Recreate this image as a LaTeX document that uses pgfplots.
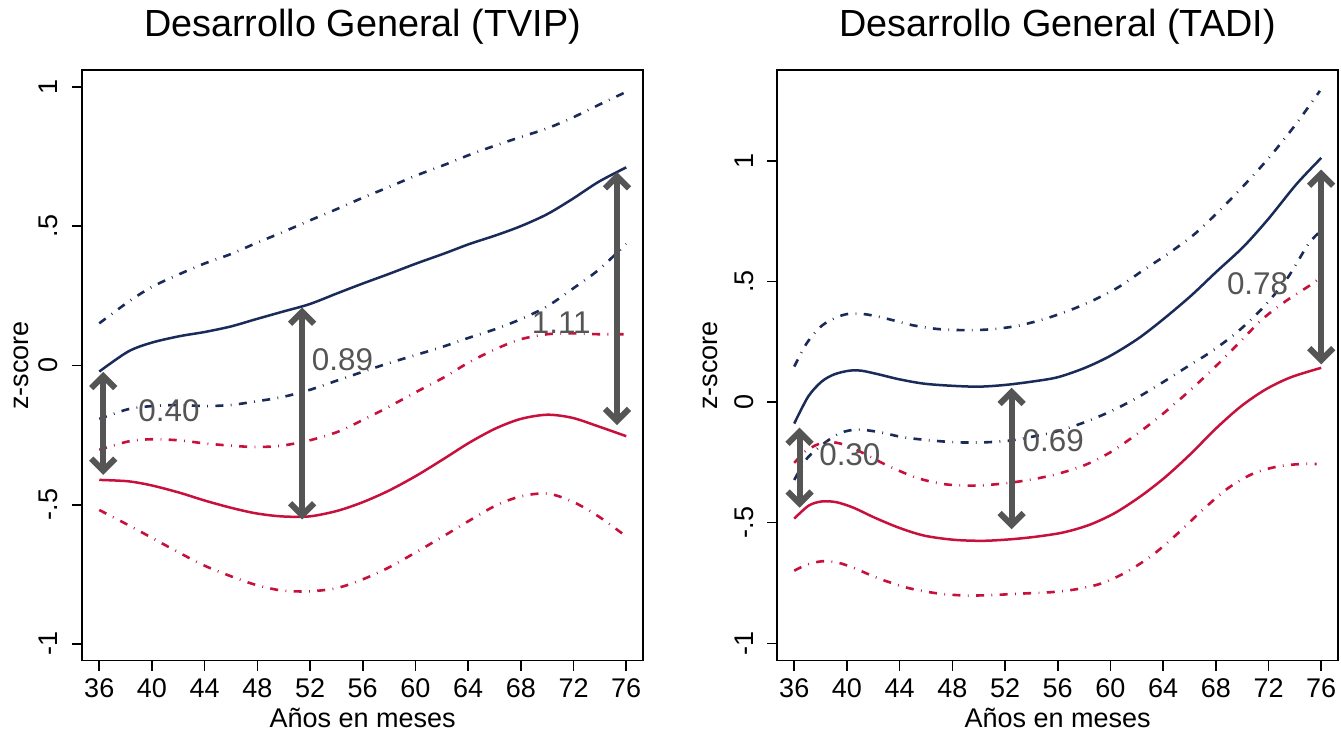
\documentclass[border=0pt]{standalone}
\usepackage{pgfplots}
\pgfplotsset{compat=1.18}
\usepackage{fontspec}
\setmainfont{Liberation Sans}
\usetikzlibrary{arrows.meta}
\definecolor{navy}{RGB}{26,43,90}
\definecolor{crim}{RGB}{200,16,60}
\definecolor{arr}{RGB}{85,85,85}
\tikzset{glab/.style={text=arr, font=\fontsize{15.7}{18}\selectfont}}
\pgfplotsset{
 stata/.style={
  scale only axis, width=280.6pt, height=295.4pt,
  xmin=34.69, xmax=77.29,
  xtick={36,40,44,48,52,56,60,64,68,72,76},
  xticklabels={36,40,44,48,52,56,60,64,68,72,76},
  tick align=outside, tick pos=left,
  major tick length=5pt,
  tick style={black, line width=0.8pt},
  axis line style={line width=0.8pt},
  ticklabel style={font=\fontsize{13.5}{16}\selectfont},
  xticklabel style={anchor=base, yshift=-13.5pt},
  yticklabel style={rotate=90, anchor=base},
  yticklabel shift=7pt,
  ytick={-1,-0.5,0,0.5,1},
  yticklabels={-1,-.5,0,.5,1},
  xlabel={Años en meses}, ylabel={z-score},
  label style={font=\fontsize{13.5}{16}\selectfont},
  xlabel style={at={(0.5,-0.1137)}, anchor=base},
  title style={font=\fontsize{18.9}{22}\selectfont, at={(0.5,1.0361)}, anchor=base},
 },
 mainb/.style={navy, line width=1.25pt, smooth, no marks},
 ciob/.style={navy, line width=1.3pt, smooth, no marks, dash pattern=on 4pt off 3.7pt on 0.4pt off 3.7pt},
 mainr/.style={crim, line width=1.25pt, smooth, no marks},
 cior/.style={crim, line width=1.3pt, smooth, no marks, dash pattern=on 4pt off 3.7pt on 0.4pt off 3.7pt},
 garr/.style={arr, line width=3pt, {Straight Barb[length=6pt,width=12pt]}-{Straight Barb[length=6pt,width=12pt]}},
}
\begin{document}
\begin{tikzpicture}
\path[use as bounding box] (0,0) rectangle (670.5pt,366pt);
\begin{axis}[stata, at={(41pt,35.65pt)}, anchor=south west,
  ymin=-1.06, ymax=1.061, title={Desarrollo General (TVIP)},
  ylabel style={at={(-0.0962,0.5)}, anchor=base}]
\addplot[ciob] coordinates {(36,0.151) (38.2,0.228) (40,0.282) (42.1,0.328) (44,0.366) (46,0.40) (47.9,0.439) (49.85,0.477) (51.96,0.52) (54.07,0.562) (56,0.602) (57.96,0.64) (60.07,0.682) (62.2,0.72) (64.1,0.756) (66.1,0.79) (68,0.82) (70,0.851) (71.9,0.889) (73.9,0.935) (76,0.982)};
\addplot[mainb] coordinates {(36,-0.022) (38.2,0.05) (40,0.082) (42.1,0.105) (44,0.12) (46,0.14) (47.9,0.166) (49.85,0.192) (51.96,0.22) (54.07,0.259) (56,0.294) (57.96,0.328) (60.07,0.366) (62.2,0.402) (64.1,0.436) (66.1,0.467) (68,0.50) (70,0.543) (71.9,0.597) (73.9,0.659) (76,0.711)};
\addplot[ciob] coordinates {(36,-0.192) (38.2,-0.157) (40,-0.146) (42.1,-0.142) (44,-0.146) (46,-0.142) (47.9,-0.129) (49.85,-0.114) (51.96,-0.088) (54.07,-0.054) (56,-0.023) (57.96,0.008) (60.07,0.038) (62.2,0.069) (64.1,0.10) (66.1,0.131) (68,0.166) (70,0.212) (71.9,0.274) (73.9,0.343) (76,0.436)};
\addplot[cior] coordinates {(36,-0.303) (38.2,-0.273) (40,-0.265) (42.1,-0.269) (44,-0.28) (46,-0.288) (47.9,-0.293) (49.85,-0.288) (51.96,-0.269) (54.07,-0.239) (56,-0.196) (57.96,-0.149) (60.07,-0.095) (62.2,-0.042) (64.1,0.012) (66.1,0.059) (68,0.094) (70,0.112) (71.9,0.115) (73.9,0.112) (76,0.112)};
\addplot[mainr] coordinates {(36,-0.411) (38.2,-0.416) (40,-0.431) (42.1,-0.457) (44,-0.485) (46,-0.511) (47.9,-0.531) (49.85,-0.542) (51.96,-0.542) (54.07,-0.522) (56,-0.491) (57.96,-0.45) (60.07,-0.396) (62.2,-0.334) (64.1,-0.277) (66.1,-0.226) (68,-0.192) (70,-0.177) (71.9,-0.188) (73.9,-0.219) (76,-0.254)};
\addplot[cior] coordinates {(36,-0.519) (38.2,-0.573) (40,-0.619) (42.1,-0.673) (44,-0.719) (46,-0.757) (47.9,-0.788) (49.85,-0.808) (51.96,-0.811) (54.07,-0.799) (56,-0.768) (57.96,-0.726) (60.07,-0.67) (62.2,-0.611) (64.1,-0.557) (66.1,-0.503) (68,-0.47) (70,-0.46) (71.9,-0.488) (73.9,-0.542) (76,-0.614)};
\addplot[garr] coordinates {(36.3,-0.023) (36.3,-0.393)};
\addplot[garr] coordinates {(51.4,0.208) (51.4,-0.553)};
\addplot[garr] coordinates {(75.3,0.694) (75.3,-0.214)};
\node[glab] at (axis cs:41.29,-0.162) {0.40};
\node[glab] at (axis cs:54.46,0.02) {0.89};
\node[glab] at (axis cs:71.07,0.155) {1.11};
\end{axis}
\begin{axis}[stata, at={(388.5pt,35.65pt)}, anchor=south west,
  ymin=-1.072, ymax=1.377, title={Desarrollo General (TADI)},
  ylabel style={at={(-0.106,0.5)}, anchor=base}]
\addplot[ciob] coordinates {(36,0.147) (36.96,0.245) (38.08,0.316) (39.2,0.351) (40.16,0.366) (41.4,0.364) (43.0,0.346) (44.95,0.319) (46.87,0.303) (49.1,0.298) (51.0,0.302) (52.95,0.316) (54.9,0.343) (56.8,0.378) (58.7,0.422) (60.6,0.476) (62.5,0.547) (64.46,0.618) (66.4,0.697) (68.3,0.795) (70.2,0.902) (72.1,1.017) (74.05,1.15) (75.9,1.29)};
\addplot[mainb] coordinates {(36,-0.089) (37.06,0.023) (38.08,0.085) (39.04,0.115) (40.16,0.13) (41.1,0.13) (42.4,0.115) (44,0.094) (45.9,0.076) (48.15,0.067) (50.07,0.064) (52,0.071) (54.07,0.085) (56,0.103) (58.07,0.142) (60,0.192) (62.1,0.263) (64.0,0.343) (66.1,0.44) (68.0,0.538) (70.1,0.644) (72.0,0.76) (74.1,0.902) (76,1.012)};
\addplot[ciob] coordinates {(36,-0.323) (36.96,-0.234) (38.24,-0.172) (39.5,-0.128) (40.8,-0.114) (42.4,-0.124) (44.3,-0.146) (46.55,-0.16) (48.5,-0.167) (50.4,-0.167) (52.3,-0.16) (54.2,-0.142) (56.1,-0.119) (58.07,-0.083) (60,-0.039) (61.9,0.014) (63.8,0.076) (65.7,0.142) (67.65,0.209) (69.6,0.289) (71.5,0.387) (73.4,0.511) (75.0,0.653) (75.9,0.706)};
\addplot[cior] coordinates {(36,-0.252) (36.96,-0.199) (38.24,-0.167) (39.5,-0.172) (41.1,-0.208) (43.0,-0.261) (45.3,-0.314) (47.5,-0.341) (49.75,-0.346) (52,-0.337) (54.2,-0.319) (56.1,-0.296) (58.07,-0.261) (60,-0.208) (61.9,-0.137) (63.8,-0.057) (65.7,0.032) (67.65,0.13) (69.6,0.236) (71.5,0.342) (73.4,0.422) (75.4,0.493) (75.9,0.52)};
\addplot[mainr] coordinates {(36,-0.483) (37.1,-0.429) (38.08,-0.412) (39.2,-0.415) (40.5,-0.438) (42.1,-0.479) (44.0,-0.522) (45.9,-0.554) (48.15,-0.571) (50.4,-0.575) (52.6,-0.568) (54.5,-0.557) (56.46,-0.54) (58.4,-0.509) (60.3,-0.461) (62.2,-0.394) (64.1,-0.314) (66.05,-0.217) (68.0,-0.11) (69.9,-0.018) (71.8,0.053) (73.7,0.103) (76,0.142)};
\addplot[cior] coordinates {(36,-0.699) (36.96,-0.674) (38.08,-0.66) (39.2,-0.664) (40.5,-0.687) (42.4,-0.731) (44.6,-0.77) (46.87,-0.793) (49.1,-0.802) (51.35,-0.799) (53.6,-0.793) (55.5,-0.788) (57.4,-0.776) (59.3,-0.752) (61.2,-0.705) (63.2,-0.634) (65.1,-0.545) (67.0,-0.447) (68.9,-0.358) (70.85,-0.296) (72.8,-0.266) (74.7,-0.256) (75.65,-0.257)};
\addplot[garr] coordinates {(36.4,-0.106) (36.4,-0.438)};
\addplot[garr] coordinates {(52.5,0.059) (52.5,-0.527)};
\addplot[garr] coordinates {(76,0.964) (76,0.156)};
\node[glab] at (axis cs:40.22,-0.218) {0.30};
\node[glab] at (axis cs:55.66,-0.158) {0.69};
\node[glab] at (axis cs:71.17,0.49) {0.78};
\end{axis}
\end{tikzpicture}
\end{document}
